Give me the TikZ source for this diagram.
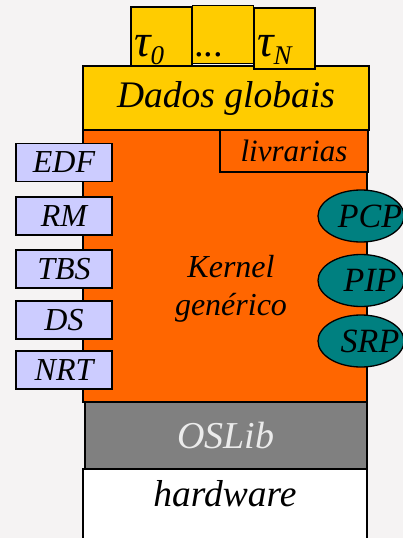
\documentclass[tikz,border=0pt]{standalone}
\usepackage{fontspec}
\setmainfont{Liberation Serif}
\usetikzlibrary{shapes.geometric}
\definecolor{fundo}{RGB}{245,243,243}
\definecolor{amarelo}{RGB}{255,204,0}
\definecolor{laranja}{RGB}{255,102,0}
\definecolor{lilas}{RGB}{204,204,255}
\definecolor{verdeazul}{RGB}{0,128,128}
\definecolor{cinza}{RGB}{128,128,128}
\newcommand\tarefatxt[1]{{\fontsize{46}{46}\selectfont\itshape τ}%
	\raisebox{-8pt}{\fontsize{27}{27}\selectfont\itshape #1}}
\tikzset{
	caixa/.style={draw=black,line width=1.3pt,inner sep=0pt},
	tarefa/.style={caixa,fill=amarelo,minimum width=61pt,minimum height=59pt},
	escalonador/.style={caixa,fill=lilas,minimum width=96pt,minimum height=38pt,
		font=\fontsize{32}{32}\selectfont\itshape},
	protocolo/.style={caixa,ellipse,fill=verdeazul,minimum width=86pt,minimum height=52pt},
	rotulo/.style={inner sep=0pt,font=\fontsize{37.5}{38}\selectfont\itshape},
}
\begin{document}
	\begin{tikzpicture}[x=1pt,y=-1pt]
		\useasboundingbox[fill=fundo] (0,0) rectangle (403,538);
		% tarefas
		\node[tarefa,minimum height=58pt] (reticencias) at (223,34.5) {};
		\node[anchor=base west,inner sep=0pt,font=\fontsize{38}{38}\selectfont] at (195,56) {\itshape...};
		\node[tarefa] (tau0) at (161.5,36.5) {};
		\node[anchor=base west,inner sep=0pt] at (134,56) {\tarefatxt{0}};
		% dados globais e kernel
		\node[caixa,fill=amarelo,minimum width=286pt,minimum height=64pt] (dados) at (226,98) {};
		\node[tarefa,minimum height=61pt] (tauN) at (284.5,38.5) {};
		\node[anchor=base west,inner sep=0pt] at (257,56) {\tarefatxt{N}};
		\node[rotulo] at (dados) {Dados globais};
		\node[caixa,fill=laranja,minimum width=284pt,minimum height=272pt] (kernel) at (225,266) {};
		\node[rotulo,font=\fontsize{32}{38}\selectfont\itshape,align=center] at (231,289)
			{Kernel\\genérico};
		\node[caixa,fill=laranja,minimum width=148pt,minimum height=42pt,
			font=\fontsize{31}{31}\selectfont\itshape] (livrarias) at (294,151) {livrarias};
		% escalonadores
		\foreach \nome/\y in {EDF/162.5,RM/216,TBS/269,DS/320,NRT/370}
			\node[escalonador] (\nome) at (64,\y) {\nome};
		% protocolos
		\foreach \nome/\y in {PCP/216,PIP/280.5,SRP/341}{
			\node[protocolo] (\nome) at (361,\y) {};
			\node[inner sep=0pt,font=\fontsize{34}{34}\selectfont\itshape] at ([xshift=9pt]\nome) {\nome};
		}
		% camadas de baixo
		\node[caixa,fill=cinza,minimum width=282pt,minimum height=67pt,
			text=black!8,font=\fontsize{38}{38}\selectfont\itshape] (oslib) at (226,435.5) {OSLib};
		\fill[white] (83,469) rectangle (367,540);
		\draw[line width=1.3pt] (83,545) |- (367,469) -- (367,545);
		\node[rotulo] (hardware) at (225,494) {hardware};
	\end{tikzpicture}
\end{document}
